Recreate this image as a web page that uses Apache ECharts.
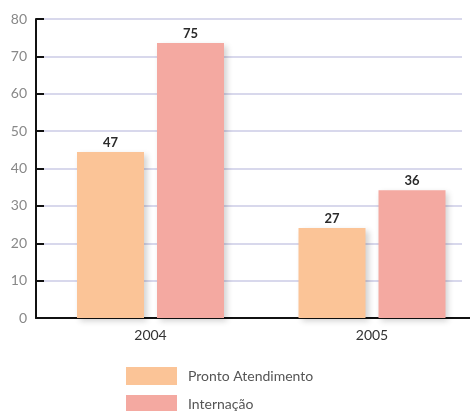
<!DOCTYPE html>
<html>
<head>
<meta charset="utf-8">
<script src="https://cdn.jsdelivr.net/npm/echarts@6/dist/echarts.min.js"></script>
<style>
  html, body { margin: 0; padding: 0; background: #fff; }
  #chart { width: 470px; height: 411px; }
</style>
</head>
<body>
<div id="chart"></div>
<script>
const categories = ['2004', '2005'];
const seriesNames = ['Pronto Atendimento', 'Internação'];
// bar heights as drawn in the picture
const prontoValues = [44.4, 24.1];
const internacaoValues = [73.6, 34.2];
// value labels printed above the bars
const prontoLabels = ['47', '27'];
const internacaoLabels = ['75', '36'];
const yTicks = [0, 10, 20, 30, 40, 50, 60, 70, 80];

const FONT = 'Lato, "Open Sans", sans-serif';
const chart = echarts.init(document.getElementById('chart'), null, { renderer: 'canvas' });

function barSeries(name, values, labels, color) {
  return {
    name: name,
    type: 'bar',
    xAxisIndex: 1,
    yAxisIndex: 1,
    data: values,
    barWidth: 67,
    barGap: '19.4%',
    clip: false,
    itemStyle: {
      color: color,
      shadowBlur: 6,
      shadowColor: 'rgba(0,0,0,0.18)',
      shadowOffsetX: 3,
      shadowOffsetY: 3
    },
    label: {
      show: true,
      position: 'top',
      distance: 3,
      fontFamily: FONT,
      fontSize: 13,
      fontWeight: 'bold',
      color: '#2a2a2a',
      formatter: p => labels[p.dataIndex]
    }
  };
}

chart.setOption({
  animation: false,
  backgroundColor: '#ffffff',
  textStyle: { fontFamily: FONT },
  grid: [
    { left: 36, right: 8, top: 19, bottom: 93 },
    { left: 150.5, right: 98, top: 19, bottom: 93 },
    { left: 36, right: 0, top: 19, bottom: 93 }
  ],
  legend: {
    orient: 'vertical',
    left: 126,
    top: 367,
    height: 80,
    padding: 0,
    itemWidth: 51,
    itemHeight: 18,
    itemGap: 10,
    icon: 'rect',
    textStyle: { fontFamily: FONT, fontSize: 14, color: '#555', padding: [0, 0, 0, 6] },
    data: seriesNames
  },
  xAxis: [
    {
      gridIndex: 0,
      type: 'category',
      data: categories,
      axisLine: { show: false },
      axisTick: { show: false },
      axisLabel: { show: false }
    },
    {
      gridIndex: 1,
      type: 'category',
      data: categories,
      boundaryGap: false,
      axisLine: { show: false },
      axisTick: { show: false },
      axisLabel: { fontFamily: FONT, fontSize: 14, color: '#333', margin: 10 }
    },
    {
      gridIndex: 2,
      type: 'category',
      data: categories,
      axisLine: { show: true, lineStyle: { color: '#111', width: 2 } },
      axisTick: { show: false },
      axisLabel: { show: false }
    }
  ],
  yAxis: [
    {
      gridIndex: 0,
      type: 'value',
      min: yTicks[0],
      max: yTicks[yTicks.length - 1],
      interval: 10,
      axisLine: { show: true, lineStyle: { color: '#111', width: 2 } },
      axisTick: { show: true, inside: true, length: 8, lineStyle: { color: '#111', width: 2 } },
      axisLabel: { fontFamily: FONT, fontSize: 14, color: '#888', margin: 9 },
      splitLine: { show: true, lineStyle: { color: '#d8d8ec', width: 2 } }
    },
    {
      gridIndex: 1,
      type: 'value',
      min: yTicks[0],
      max: yTicks[yTicks.length - 1],
      show: false,
      splitLine: { show: false }
    },
    {
      gridIndex: 2,
      type: 'value',
      min: yTicks[0],
      max: yTicks[yTicks.length - 1],
      show: false,
      splitLine: { show: false }
    }
  ],
  series: [
    barSeries(seriesNames[0], prontoValues, prontoLabels, '#fbc497'),
    barSeries(seriesNames[1], internacaoValues, internacaoLabels, '#f4a9a1')
  ]
});
</script>
</body>
</html>
